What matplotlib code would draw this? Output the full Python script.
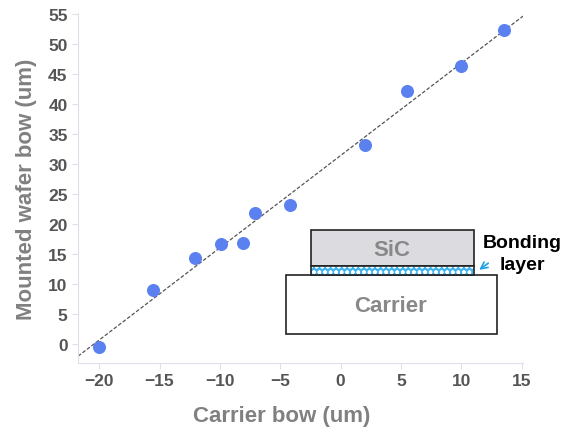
import numpy as np
import matplotlib.pyplot as plt
from matplotlib.patches import Rectangle

plt.rcParams['font.family'] = ['Liberation Sans', 'DejaVu Sans']

# carrier bow vs mounted wafer bow (um)
carrier_bow = [-20.0, -15.5, -12.1, -9.9, -8.1, -7.1, -4.2, 2.0, 5.5, 10.0, 13.5]
mounted_bow = [-0.5, 8.9, 14.3, 16.7, 16.8, 21.8, 23.1, 33.1, 42.2, 46.3, 52.3]
x_ticks = [-20, -15, -10, -5, 0, 5, 10, 15]
y_ticks = [0, 5, 10, 15, 20, 25, 30, 35, 40, 45, 50, 55]

W, H = 570, 431
fig = plt.figure(figsize=(W / 100, H / 100), dpi=100)
ax = fig.add_axes([78 / W, 1 - 364 / H, (523 - 78) / W, (364 - 14) / H])

ax.scatter(carrier_bow, mounted_bow, s=70, color='#5b80f0', zorder=3)

# linear trend line over whole x range
slope, icpt = np.polyfit(carrier_bow, mounted_bow, 1)
xl = np.array([-21.75, 15.1])
ax.plot(xl, slope * xl + icpt, ls=(0, (3, 1.5)), lw=0.9, color='#555555', zorder=2)

ax.set_xlim(-21.75, 15.1)
ax.set_ylim(-3.2, 55.2)
ax.set_xticks(x_ticks)
ax.set_yticks(y_ticks)
ax.tick_params(colors='#dde0ea', labelcolor='#555555', labelsize=12.5, length=4)
for lab in ax.get_xticklabels() + ax.get_yticklabels():
    lab.set_fontweight('bold')
for s in ['top', 'right']:
    ax.spines[s].set_visible(False)
for s in ['left', 'bottom']:
    ax.spines[s].set_color('#dde0ea')
ax.set_xlabel('Carrier bow (um)', fontsize=16, fontweight='bold', color='#808080')
ax.xaxis.set_label_coords((282 - 78) / 445, -42 / 350)
ax.set_ylabel('Mounted wafer bow (um)', fontsize=16, fontweight='bold', color='#808080', labelpad=8)

# inset sketch of the stack, drawn in pixel-like coords
x0, x1, y0, y1 = 280, 570, 225, 340
ins = fig.add_axes([x0 / W, 1 - y1 / H, (x1 - x0) / W, (y1 - y0) / H])
ins.set_xlim(x0, x1)
ins.set_ylim(y1, y0)
ins.axis('off')
ins.add_patch(Rectangle((286, 275.7), 210.7, 59.3, facecolor='white', edgecolor='#222222', lw=1.2))
ins.add_patch(Rectangle((310.7, 231), 163.3, 35.7, facecolor='#dcdce0', edgecolor='#222222', lw=1.2))
plt.rcParams['hatch.color'] = 'white'
ins.add_patch(Rectangle((310.7, 266.7), 163.3, 9, facecolor='#40b4f0', hatch='ooo', lw=0))
ins.add_patch(Rectangle((310.7, 266.7), 163.3, 9, facecolor='none', edgecolor='#222222', lw=1.2))
ins.text(391.7, 251, 'SiC', ha='center', va='center', fontsize=16, fontweight='bold', color='#888888')
ins.text(390.7, 307, 'Carrier', ha='center', va='center', fontsize=16, fontweight='bold', color='#888888')
ins.text(483, 243, 'Bonding', ha='left', va='center', fontsize=14, fontweight='bold', color='black')
ins.text(500, 266, 'layer', ha='left', va='center', fontsize=14, fontweight='bold', color='black')
ins.annotate('', xy=(477, 272.5), xytext=(490.5, 262.5),
             arrowprops=dict(arrowstyle='->', color='#1ea0e6', lw=1.2, mutation_scale=12))

fig.savefig('out.png', dpi=100)
